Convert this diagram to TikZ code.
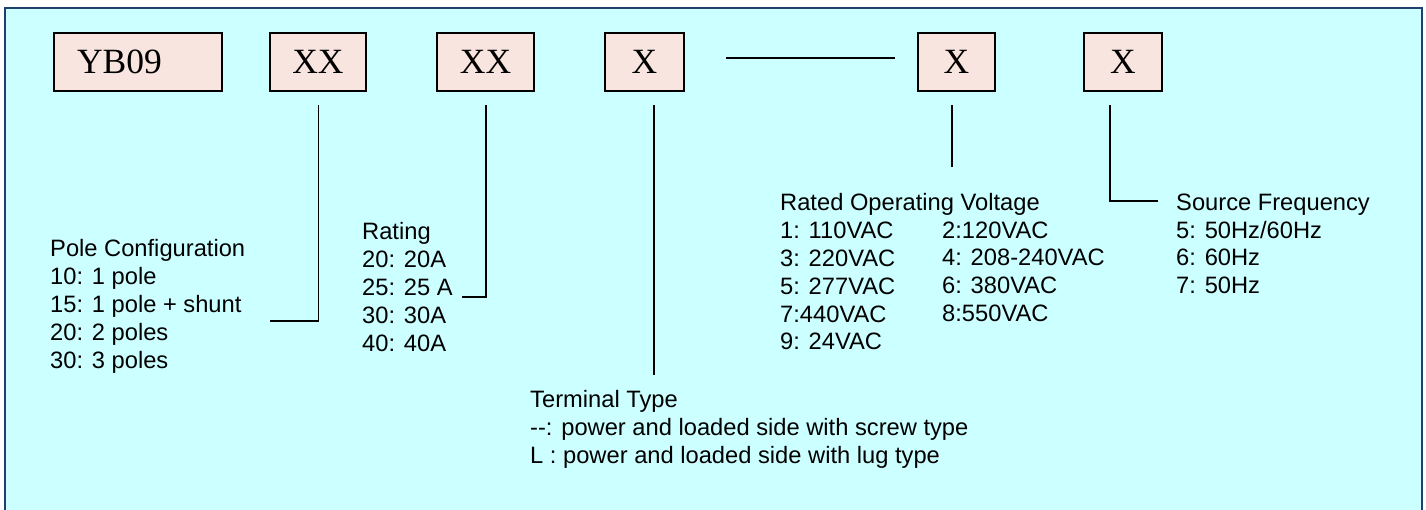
\documentclass[tikz,border=0pt]{standalone}
\usepackage{fontspec}
\setmainfont{Liberation Sans}
\newfontfamily\boxfont{Liberation Serif}
\definecolor{bgcyan}{HTML}{CCFFFF}
\definecolor{framenavy}{HTML}{1F3F6F}
\definecolor{boxpeach}{HTML}{F9E5DF}
\begin{document}
\begin{tikzpicture}[x=1pt,y=-1pt,
  codebox/.style={draw=black,line width=1.3pt,fill=boxpeach,minimum height=58pt,inner sep=0pt,font=\boxfont\fontsize{35.5}{40}\selectfont},
  info/.style={anchor=north west,align=left,inner sep=0pt,font=\fontsize{23.7}{27.8}\selectfont},
  conn/.style={line width=1.3pt,draw=black}]
\useasboundingbox (0,0) rectangle (1426,510);
\draw[fill=bgcyan,draw=framenavy,line width=2pt] (5,8) rectangle (1422,520);
% code boxes
\node[codebox,minimum width=168pt,text width=122pt,inner xsep=23pt,align=left] (yb) at (138,62) {YB09};
\node[codebox,minimum width=96pt] (xx1) at (318,62) {XX};
\node[codebox,minimum width=97pt] (xx2) at (485.5,62) {XX};
\node[codebox,minimum width=79pt] (x1) at (644.5,62) {X};
\node[codebox,minimum width=77pt] (x2) at (956.5,62) {X};
\node[codebox,minimum width=78pt] (x3) at (1123,62) {X};
% dash between
\coordinate (dashL) at (726,58);
\coordinate (dashR) at (895,58);
\draw[conn] (dashL) -- (dashR);
% info texts
\node[info] (pole) at (50,239.5) {Pole Configuration\\10: 1 pole\\15: 1 pole + shunt\\20: 2 poles\\30: 3 poles};
\node[info] (rating) at (362,222.5) {Rating\\20: 20A\\25: 25 A\\30: 30A\\40: 40A};
\node[info] (volt) at (780,193.5) {Rated Operating Voltage\\1: 110VAC\\3: 220VAC\\5: 277VAC\\7:440VAC\\9: 24VAC};
\node[info] (volt2) at (942,221.3) {2:120VAC\\4: 208-240VAC\\6: 380VAC\\8:550VAC};
\node[info] (freq) at (1176,193.5) {Source Frequency\\5: 50Hz/60Hz\\6: 60Hz\\7: 50Hz};
\node[info] (term) at (530,390.5) {Terminal Type\\-{}-: power and loaded side with screw type\\L : power and loaded side with lug type};
% connectors
\coordinate (t1) at (318.5,105); \coordinate (e1) at (270,321);
\coordinate (t2) at (486,105);   \coordinate (e2) at (461.5,297);
\coordinate (t3) at (654,105);   \coordinate (e3) at (654,375);
\coordinate (t4) at (952,105);   \coordinate (e4) at (952,167);
\coordinate (t5) at (1110,105);  \coordinate (e5) at (1158,201);
\draw[conn] (t1) |- (e1);
\draw[conn] (t2) |- (e2);
\draw[conn] (t3) -- (e3);
\draw[conn] (t4) -- (e4);
\draw[conn] (t5) |- (e5);
\end{tikzpicture}
\end{document}
